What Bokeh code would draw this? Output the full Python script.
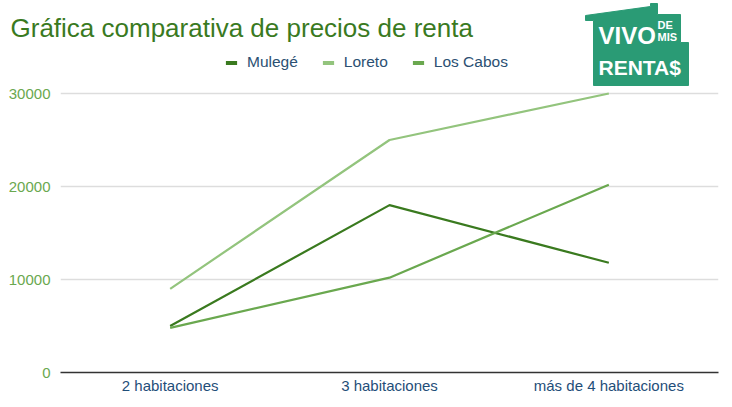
from bokeh.plotting import figure
from bokeh.models import ColumnDataSource, Legend, LegendItem, Range1d, FactorRange
from bokeh.core.properties import value
from bokeh.embed import file_html
from bokeh.resources import INLINE

categories = ["2 habitaciones", "3 habitaciones", "más de 4 habitaciones"]
mulege = [5000, 18000, 11800]
loreto = [9000, 25000, 30000]
los_cabos = [4800, 10200, 20200]
series_names = ["Mulegé", "Loreto", "Los Cabos"]
y_ticks = [0, 10000, 20000, 30000]
title_text = "Gráfica comparativa de precios de renta"

colors = ["#3a7a1f", "#93c47d", "#6aa84f"]
FONT = "Liberation Sans"
W, H = 732, 407
LEFT, RIGHT, BOTTOM = 60, 14, 35

p = figure(width=W, height=H, output_backend="svg", toolbar_location=None,
           x_range=FactorRange(*categories), y_range=Range1d(0, 40000),
           min_border_left=LEFT, min_border_right=RIGHT, min_border_top=0,
           min_border_bottom=BOTTOM)
p.outline_line_color = None

# title placed in the above panel (not clipped), pulled down with a negative standoff
p.title.text = title_text
p.title.text_font = FONT
p.title.text_font_size = "26px"
p.title.text_font_style = "normal"
p.title.text_color = "#3a7a1f"
p.title.align = "left"
p.title.vertical_align = "bottom"
p.title.offset = -50
p.title.standoff = -84

renderers = []
for name, vals, c in zip(series_names, [mulege, loreto, los_cabos], colors):
    src = ColumnDataSource(dict(x=categories, y=vals))
    p.line("x", "y", source=src, line_color=c, line_width=2.2)
    # zero-size rects: invisible on the plot, give a filled swatch in the legend
    r = p.rect("x", "y", width=0, height=0, source=src, fill_color=c, line_color=None)
    renderers.append((name, r))

legend = Legend(items=[LegendItem(label=n, renderers=[r]) for n, r in renderers],
                orientation="horizontal", location=(164, 301),
                label_text_font=FONT, label_text_font_size="15.5px", label_text_color="#2b5072",
                glyph_width=14, glyph_height=5, spacing=23, label_standoff=9,
                background_fill_alpha=0, border_line_color=None, padding=0, margin=0)
p.add_layout(legend, "center")

p.xaxis.axis_line_color = "#333333"
p.xaxis.axis_line_width = 1.5
p.xaxis.major_tick_line_color = None
p.xaxis.major_tick_out = 0
p.xaxis.minor_tick_line_color = None
p.xaxis.major_label_text_color = "#1f4e79"
p.xaxis.major_label_text_font = FONT
p.xaxis.major_label_text_font_size = "15px"
p.xaxis.major_label_standoff = 4
p.xgrid.grid_line_color = None

p.yaxis.ticker = y_ticks
p.yaxis.axis_line_color = None
p.yaxis.major_tick_line_color = None
p.yaxis.major_tick_out = 0
p.yaxis.minor_tick_line_color = None
p.yaxis.major_label_text_color = "#6aa84f"
p.yaxis.major_label_text_font = FONT
p.yaxis.major_label_text_font_size = "15px"
p.yaxis.major_label_standoff = 10
p.ygrid.ticker = y_ticks
p.ygrid.grid_line_color = "#dddddd"
p.ygrid.grid_line_width = 1.5

# logo (decoration): page-pixel positions converted to the frame's coordinates
frame_w = W - LEFT - RIGHT
def sx(px):
    return [(v - LEFT) * len(categories) / frame_w for v in px]

p.extra_y_ranges = {"py": Range1d(H - BOTTOM, 0)}
teal = "#2a9b75"
house_x = [585, 585, 650, 650, 657, 657, 680, 680, 688, 688, 593, 593]
house_y = [20, 15, 6, 3, 3, 14, 14, 42, 42, 85, 85, 20]
p.patch(sx(house_x), house_y, y_range_name="py", fill_color=teal, line_color=teal)
logo_font = value("Liberation Sans")
for t, x0, y0, fs in [("VIVO", 598, 35, "24px"), ("DE", 657, 24, "11px"),
                      ("MIS", 657, 36, "11px"), ("RENTA$", 598, 67, "21px")]:
    p.text(x=sx([x0]), y=[y0], text=[t], y_range_name="py",
           text_font=logo_font, text_font_style="bold", text_font_size=fs,
           text_color="white", text_baseline="alphabetic")

open("out.html", "w").write(file_html(p, INLINE))
